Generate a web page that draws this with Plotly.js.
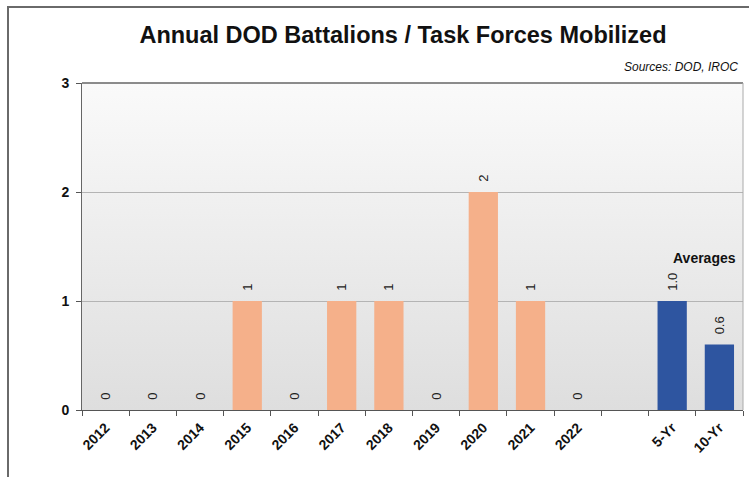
<!DOCTYPE html>
<html>
<head>
<meta charset="utf-8">
<script src="https://cdn.plot.ly/plotly-3.0.1.min.js"></script>
<style>
html,body{margin:0;padding:0;background:#fff;}
#wrap{position:relative;width:749px;height:477px;overflow:hidden;}
#chart{width:749px;height:477px;}
#frame{position:absolute;left:7px;top:6px;width:760px;height:500px;border-left:2px solid #6a6a6a;border-top:2px solid #6a6a6a;pointer-events:none;}
</style>
</head>
<body>
<div id="wrap"><div id="chart"></div><div id="frame"></div></div>
<script>
var categories = ['2012','2013','2014','2015','2016','2017','2018','2019','2020','2021','2022',' ','5-Yr','10-Yr'];
var annualYears = ['2012','2013','2014','2015','2016','2017','2018','2019','2020','2021','2022'];
var annualValues = [0,0,0,1,0,1,1,0,2,1,0];
var avgLabels = ['5-Yr','10-Yr'];
var avgValues = [1.0,0.6];
var yTicks = [0,1,2,3];

var grad = 'data:image/svg+xml;utf8,' + encodeURIComponent(
  '<svg xmlns="http://www.w3.org/2000/svg" width="10" height="100" preserveAspectRatio="none">' +
  '<defs><linearGradient id="g" x1="0" y1="0" x2="0" y2="1">' +
  '<stop offset="0" stop-color="#fafafa"/><stop offset="1" stop-color="#dedede"/></linearGradient></defs>' +
  '<rect width="10" height="100" fill="url(#g)"/></svg>');

var labelFont = {family:'Liberation Sans, Arial', size:13, color:'#222'};
var traces = [
  {type:'bar', x:annualYears, y:annualValues, marker:{color:'#F5B08A'}, width:0.62,
   text:annualValues.map(function(v){return '  ' + v.toFixed(0);}), textposition:'outside', textangle:-90,
   textfont:labelFont, cliponaxis:false, hoverinfo:'skip'},
  {type:'bar', x:avgLabels, y:avgValues, marker:{color:'#2E55A0'}, width:0.62,
   text:avgValues.map(function(v){return '  ' + v.toFixed(1);}), textposition:'outside', textangle:-90,
   textfont:labelFont, cliponaxis:false, hoverinfo:'skip'}
];

var layout = {
  width:749, height:477,
  margin:{l:82, r:6, t:83, b:67},
  paper_bgcolor:'#ffffff', plot_bgcolor:'rgba(0,0,0,0)',
  showlegend:false, barmode:'overlay',
  font:{family:'Liberation Sans, Arial', color:'#111'},
  title:{text:'<b>Annual DOD Battalions / Task Forces Mobilized</b>', font:{family:'Liberation Sans, Arial', size:23.5, color:'#111'},
         x:0.538, xref:'container', xanchor:'center', y:0.927, yref:'container', yanchor:'middle'},
  xaxis:{type:'category', categoryorder:'array', categoryarray:categories, range:[-0.5,13.5],
         tickson:'boundaries', ticks:'outside', ticklen:5, tickcolor:'#555', tickangle:-45,
         ticklabelstandoff:3,
         tickfont:{family:'Liberation Sans, Arial', size:14, color:'#111', weight:'bold'},
         showline:true, linecolor:'#555', linewidth:1, mirror:false, showgrid:false, fixedrange:true},
  yaxis:{range:[0,3], tickvals:yTicks, ticktext:yTicks.map(String), ticks:'outside', ticklen:5, tickcolor:'#555',
         ticklabelstandoff:4,
         tickfont:{family:'Liberation Sans, Arial', size:14, color:'#111', weight:'bold'},
         showline:true, linecolor:'#666', linewidth:1, showgrid:true, gridcolor:'#b4b4b4', gridwidth:1,
         zeroline:false, fixedrange:true},
  images:[{source:grad, xref:'paper', yref:'paper', x:0, y:1, sizex:1, sizey:1, sizing:'stretch', layer:'below', xanchor:'left', yanchor:'top'}],
  shapes:[
    {type:'line', xref:'paper', yref:'paper', x0:0, x1:1, y0:1, y1:1, line:{color:'#666', width:1.5}},
    {type:'line', xref:'paper', yref:'paper', x0:1, x1:1, y0:0, y1:1, line:{color:'#aaa', width:1}}
  ],
  annotations:[
    {text:'<i>Sources: DOD, IROC</i>', xref:'paper', yref:'paper', x:0.995, y:1.02, xanchor:'right', yanchor:'bottom',
     showarrow:false, font:{family:'Liberation Sans, Arial', size:12, color:'#111'}},
    {text:'<b>Averages</b>', xref:'x', yref:'y', x:12.68, y:1.39, xanchor:'center', yanchor:'middle',
     showarrow:false, font:{family:'Liberation Sans, Arial', size:14, color:'#111'}}
  ]
};

Plotly.newPlot('chart', traces, layout, {staticPlot:true, displayModeBar:false});
</script>
</body>
</html>
